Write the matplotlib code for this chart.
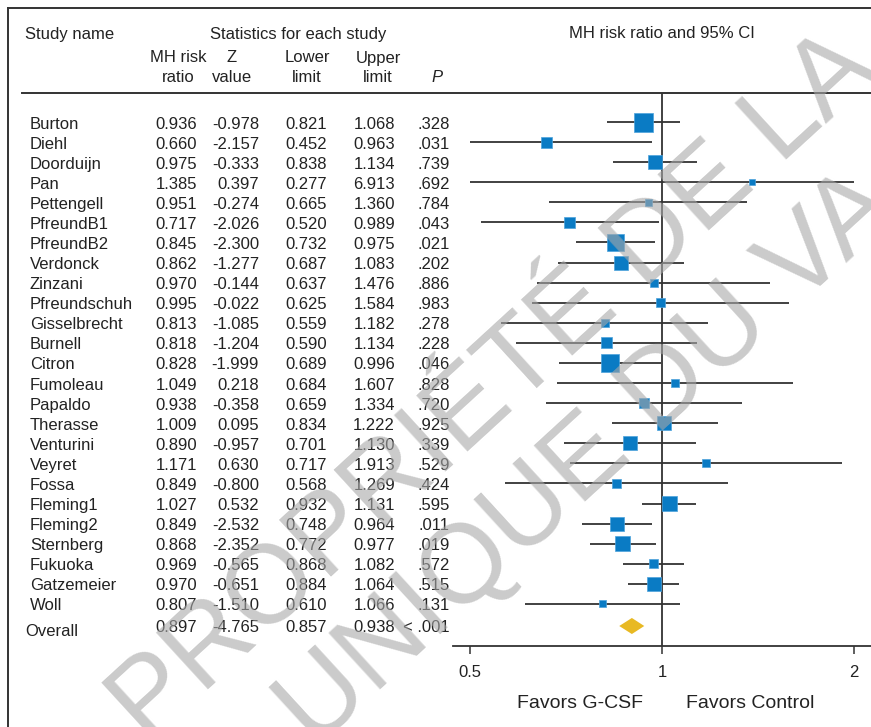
import numpy as np
import matplotlib
matplotlib.use("Agg")
import matplotlib.pyplot as plt
from matplotlib.lines import Line2D
from matplotlib.transforms import blended_transform_factory

# ---------------------------------------------------------------
# study data
# ---------------------------------------------------------------
studies = ["Burton", "Diehl", "Doorduijn", "Pan", "Pettengell", "PfreundB1",
           "PfreundB2", "Verdonck", "Zinzani", "Pfreundschuh", "Gisselbrecht",
           "Burnell", "Citron", "Fumoleau", "Papaldo", "Therasse", "Venturini",
           "Veyret", "Fossa", "Fleming1", "Fleming2", "Sternberg", "Fukuoka",
           "Gatzemeier", "Woll"]
risk_ratio = [0.936, 0.660, 0.975, 1.385, 0.951, 0.717, 0.845, 0.862, 0.970,
              0.995, 0.813, 0.818, 0.828, 1.049, 0.938, 1.009, 0.890, 1.171,
              0.849, 1.027, 0.849, 0.868, 0.969, 0.970, 0.807]
z_value = [-0.978, -2.157, -0.333, 0.397, -0.274, -2.026, -2.300, -1.277,
           -0.144, -0.022, -1.085, -1.204, -1.999, 0.218, -0.358, 0.095,
           -0.957, 0.630, -0.800, 0.532, -2.532, -2.352, -0.565, -0.651,
           -1.510]
lower = [0.821, 0.452, 0.838, 0.277, 0.665, 0.520, 0.732, 0.687, 0.637,
         0.625, 0.559, 0.590, 0.689, 0.684, 0.659, 0.834, 0.701, 0.717,
         0.568, 0.932, 0.748, 0.772, 0.868, 0.884, 0.610]
upper = [1.068, 0.963, 1.134, 6.913, 1.360, 0.989, 0.975, 1.083, 1.476,
         1.584, 1.182, 1.134, 0.996, 1.607, 1.334, 1.222, 1.130, 1.913,
         1.269, 1.131, 0.964, 0.977, 1.082, 1.064, 1.066]
p_value = [".328", ".031", ".739", ".692", ".784", ".043", ".021", ".202",
           ".886", ".983", ".278", ".228", ".046", ".828", ".720", ".925",
           ".339", ".529", ".424", ".595", ".011", ".019", ".572", ".515",
           ".131"]
# relative weight (%) -> box area
weight = [9.8, 3.3, 5.3, 1.0, 1.3, 3.3, 7.8, 5.3, 1.7, 2.2, 1.7, 3.3, 8.8,
          1.7, 2.7, 5.3, 5.3, 1.7, 2.2, 6.1, 5.3, 6.1, 2.2, 5.3, 1.3]

overall = {"rr": 0.897, "z": -4.765, "lo": 0.857, "hi": 0.938, "p": "< .001"}

x_ticks = [0.5, 1, 2]
x_tick_labels = ["0.5", "1", "2"]

# ---------------------------------------------------------------
# figure in pixel units
# ---------------------------------------------------------------
W, H = 871, 727
fig = plt.figure(figsize=(W / 100, H / 100), dpi=100)
fig.patch.set_facecolor("white")


def fx(px):
    return px / W


def fy(py):
    return 1 - py / H


TXT = "#222222"
LINE = "#333333"
BLUE = "#0a7bc4"
GOLD = "#e8b923"
FONT = "Liberation Sans"
FS = 12

plt.rcParams["font.family"] = [FONT, "DejaVu Sans"]

# forest axes
ax_left, ax_right, ax_top, ax_bot = 453, 871, 93, 646
ax = fig.add_axes([fx(ax_left), fy(ax_bot), fx(ax_right - ax_left),
                   (ax_bot - ax_top) / H])
ax.set_xscale("log")
ax.set_xlim(0.4702, 2.127)
row0, step = 122, 20.08
ax.set_ylim((ax_bot - row0) / step, (ax_top - row0) / step)
ax.patch.set_alpha(0)

for s in ["top", "right", "left"]:
    ax.spines[s].set_visible(False)
ax.spines["bottom"].set_color(LINE)
ax.spines["bottom"].set_linewidth(1.3)
ax.set_yticks([])
ax.set_xticks(x_ticks)
ax.set_xticklabels(x_tick_labels)
ax.xaxis.set_minor_locator(matplotlib.ticker.NullLocator())
ax.tick_params(axis="x", direction="out", length=6, width=1.1, color=LINE,
               labelsize=12, labelcolor=TXT, pad=8)

ax.axvline(1, color=LINE, lw=1.3, zorder=1)

rows = np.arange(len(studies))
lo_c = np.clip(lower, 0.5, 2)
hi_c = np.clip(upper, 0.5, 2)
ax.hlines(rows, lo_c, hi_c, color=LINE, lw=1.3, zorder=2)

side_px = 19 * np.sqrt(np.array(weight) / max(weight))
ax.scatter(risk_ratio, rows, marker="s", s=(side_px * 0.72) ** 2,
           color=BLUE, edgecolors="#4da3dc", linewidths=0.5, zorder=3)

# overall diamond
oy = (626 - row0) / step
dh = 0.4
ax.fill([overall["lo"], overall["rr"], overall["hi"], overall["rr"]],
        [oy, oy - dh, oy, oy + dh], color=GOLD, zorder=3, lw=0)

# ---------------------------------------------------------------
# table
# ---------------------------------------------------------------
tr = blended_transform_factory(fig.transFigure, ax.transData)
col_right = [197, 259, 327, 395, 450]
for i, name in enumerate(studies):
    y = i + 0.1
    fig.text(fx(30), y, name, transform=tr, va="center", ha="left",
             fontsize=FS, color=TXT)
    vals = [f"{risk_ratio[i]:.3f}", f"{z_value[i]:.3f}", f"{lower[i]:.3f}",
            f"{upper[i]:.3f}", p_value[i]]
    for cx, v in zip(col_right, vals):
        fig.text(fx(cx), y, v, transform=tr, va="center", ha="right",
                 fontsize=FS, color=TXT)

oy_txt = (627 - row0) / step
fig.text(fx(25), (631 - row0) / step, "Overall", transform=tr, va="center",
         ha="left", fontsize=FS, color=TXT)
ovals = [f"{overall['rr']:.3f}", f"{overall['z']:.3f}", f"{overall['lo']:.3f}",
         f"{overall['hi']:.3f}", overall["p"]]
for cx, v in zip(col_right, ovals):
    fig.text(fx(cx), oy_txt, v, transform=tr, va="center", ha="right",
             fontsize=FS, color=TXT)

# headers
fig.text(fx(25), fy(34), "Study name", va="center", ha="left", fontsize=FS,
         color=TXT)
fig.text(fx(298), fy(34), "Statistics for each study", va="center",
         ha="center", fontsize=FS, color=TXT)
fig.text(fx(662), fy(34), "MH risk ratio and 95% CI", va="center",
         ha="center", fontsize=FS, color=TXT)
for cx, l1, l2 in [(178, "MH risk", "ratio"), (232, "Z", "value"),
                   (307, "Lower", "limit"), (378, "Upper", "limit")]:
    fig.text(fx(cx), fy(58), l1, va="center", ha="center", fontsize=FS,
             color=TXT)
    fig.text(fx(cx), fy(77), l2, va="center", ha="center", fontsize=FS,
             color=TXT)
fig.text(fx(437), fy(78), "P", va="center", ha="center", fontsize=FS,
         color=TXT, style="italic")

# favors labels
fig.text(fx(580), fy(703), "Favors G-CSF", va="center", ha="center",
         fontsize=14, color=TXT)
fig.text(fx(750), fy(703), "Favors Control", va="center", ha="center",
         fontsize=14, color=TXT)

# frame and rules
for xs, ys in [([8, 871], [8, 8]), ([8, 8], [8, 727]), ([22, 871], [93, 93])]:
    fig.add_artist(Line2D([fx(x) for x in xs], [fy(y) for y in ys],
                          color=LINE, lw=1.4))

# watermark
wm = dict(ha="center", va="center", rotation=42.5, rotation_mode="anchor",
          fontsize=80, color="#a8a8a8", alpha=0.6, zorder=10,
          family="Liberation Sans")
fig.text(fx(494), fy(388), "PROPRIÉTÉ DE LA", **wm)
fig.text(fx(588), fy(460), "UNIQUE DU VA", **wm)

fig.savefig("out.png", dpi=100)
